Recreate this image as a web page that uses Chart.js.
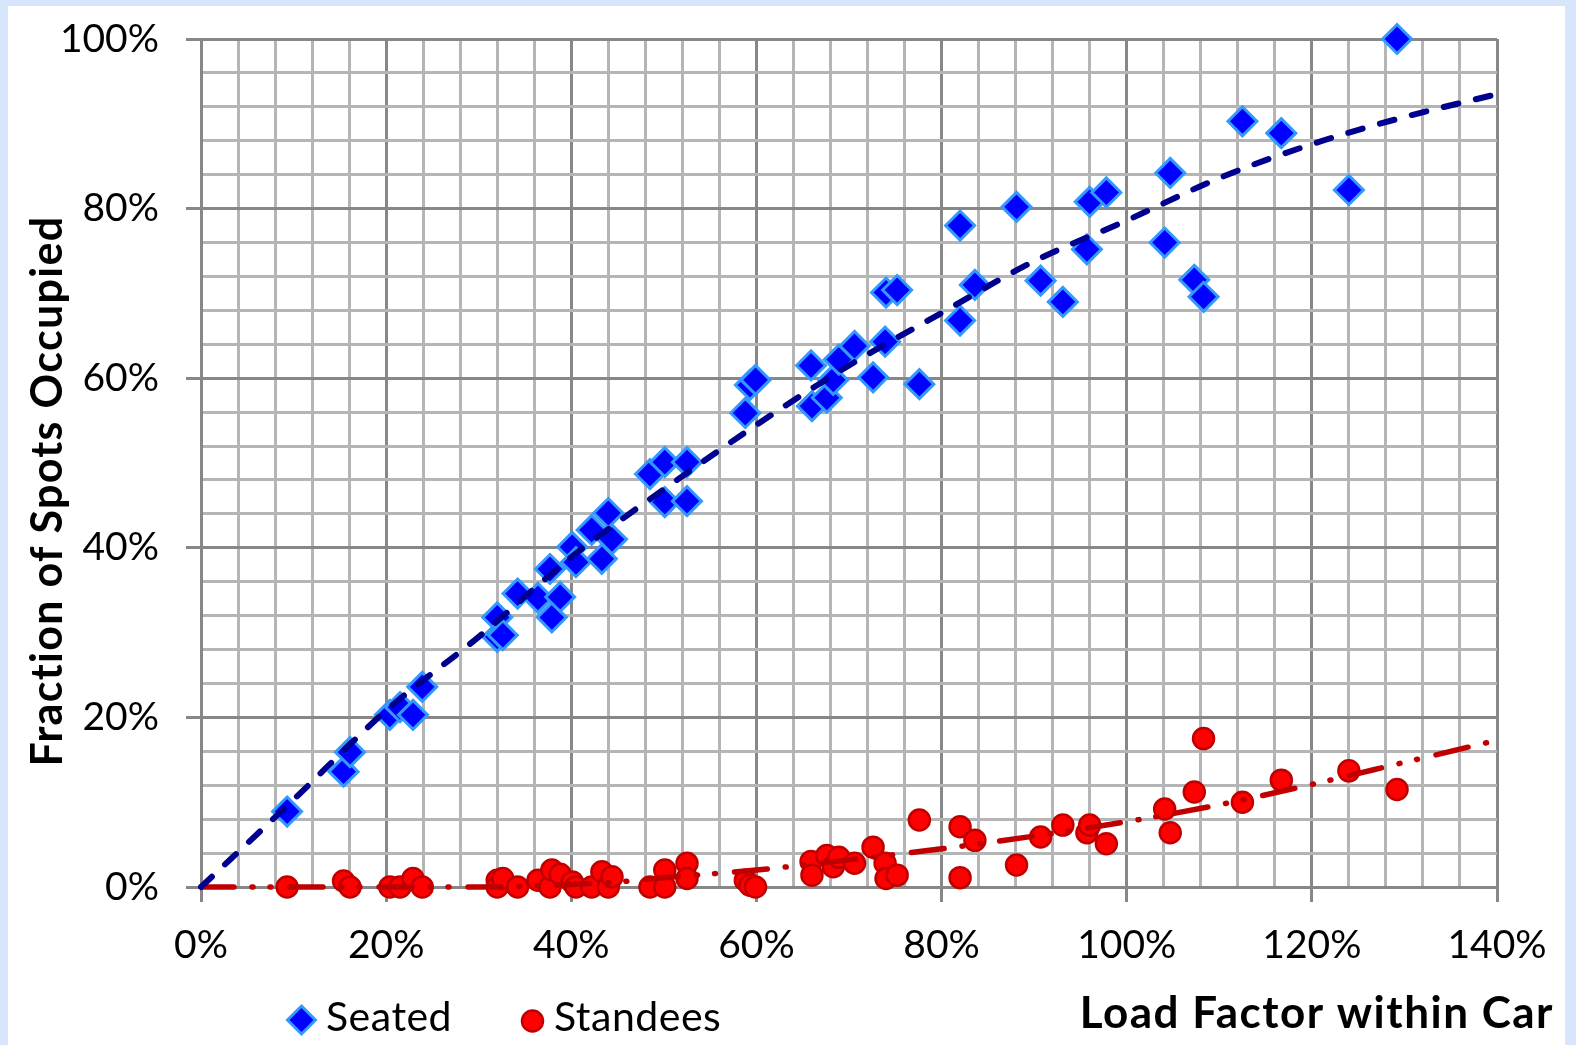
<!DOCTYPE html>
<html>
<head>
<meta charset="utf-8">
<script src="https://cdn.jsdelivr.net/npm/chart.js@4.4.1/dist/chart.umd.min.js"></script>
<style>
  html, body { margin: 0; padding: 0; background: #d7e6fa; width: 1576px; height: 1045px; overflow: hidden; }
  #box { position: absolute; left: 8px; top: 6px; width: 1557px; height: 1039px; background: #ffffff; }
  #c { display: block; }
</style>
</head>
<body>
<div id="box"><canvas id="c" width="1557" height="1039"></canvas></div>
<script>
// ---- data (percent) ----
const loadFactor = [9.3,15.4,16.1,20.4,21.5,22.9,23.9,32.0,32.0,32.6,34.2,36.4,37.7,37.9,38.8,40.1,40.5,42.2,43.3,44.0,44.4,48.5,50.1,50.1,52.5,52.5,58.8,59.3,59.9,65.9,66.0,67.6,68.3,68.9,70.6,72.6,73.9,74.0,75.2,77.6,82.0,82.0,83.6,88.1,90.7,93.1,95.7,96.0,97.8,104.1,104.7,107.3,108.3,112.5,116.7,124.0,129.2];
const seated = [8.9,13.6,15.9,20.3,21.2,20.3,23.6,31.8,29.5,29.7,34.6,34.1,37.5,31.8,34.2,40.1,38.3,42.1,38.7,44.1,41.0,48.7,50.1,45.4,50.1,45.5,55.9,59.2,59.8,61.5,56.7,57.7,59.8,62.2,63.8,60.1,64.3,70.1,70.4,59.3,78.0,66.8,71.0,80.2,71.5,69.0,75.2,80.8,81.9,76.0,84.2,71.6,69.6,90.3,88.9,82.2,100.0];
const standees = [0,0.7,0,0,0,1.0,0,0.8,0,1.0,0,0.8,0,2.0,1.5,0.6,0,0,1.8,0,1.2,0,2.0,0,2.8,1.0,0.8,0.2,0,3.0,1.4,3.7,2.4,3.5,2.8,4.7,2.8,1.0,1.4,7.9,7.1,1.1,5.5,2.6,5.9,7.3,6.4,7.3,5.1,9.2,6.4,11.2,17.5,10.0,12.6,13.7,11.5];
const trendX = [0,10,20,30,40,45,50,60,70,80,90,100,110,120,130,140];
const seatedTrend = [0,10.3,20.8,29.5,38.9,43.0,46.9,54.5,61.5,67.7,73.8,78.6,83.6,87.6,90.8,93.5];
const standeeTrend = [0,0,0,0,0.3,0.6,1.1,2.0,3.2,4.5,6.0,7.7,9.7,12.1,14.7,17.3];
const xTickLabels = ['0%','20%','40%','60%','80%','100%','120%','140%'];
const yTickLabels = ['0%','20%','40%','60%','80%','100%'];
const seriesNames = ['Seated','Standees'];
const xTitle = 'Load Factor within Car';
const yTitle = 'Fraction of Spots Occupied';

const pts = (xs, ys) => xs.map((x, i) => ({ x: x, y: ys[i] }));

const FONT = 'Lato, "Open Sans", sans-serif';
const MAJOR = '#878787', MINOR = '#b5b5b5';

const textPlugin = {
  id: 'texts',
  afterDraw(chart) {
    const ctx = chart.ctx;
    ctx.save();
    ctx.fillStyle = '#000';
    // y title
    ctx.save();
    ctx.translate(40, 485);
    ctx.rotate(-Math.PI / 2);
    ctx.font = 'bold 43px ' + FONT;
    ctx.letterSpacing = '1.3px';
    ctx.textAlign = 'center';
    ctx.textBaseline = 'middle';
    ctx.fillText(yTitle, 0, 0);
    ctx.restore();
    // x title
    ctx.font = 'bold 44px ' + FONT;
    ctx.letterSpacing = '1.5px';
    ctx.textAlign = 'right';
    ctx.textBaseline = 'alphabetic';
    ctx.fillText(xTitle, 1546, 1022);
    // legend
    ctx.font = '41px ' + FONT;
    ctx.letterSpacing = '0.5px';
    ctx.textAlign = 'left';
    ctx.textBaseline = 'middle';
    // diamond
    ctx.beginPath();
    const dx = 293.5, dy = 1014, r = 14;
    ctx.moveTo(dx, dy - r); ctx.lineTo(dx + r, dy); ctx.lineTo(dx, dy + r); ctx.lineTo(dx - r, dy); ctx.closePath();
    ctx.fillStyle = '#0000ff'; ctx.fill();
    ctx.lineWidth = 3; ctx.strokeStyle = '#3399ff'; ctx.stroke();
    ctx.fillStyle = '#000';
    ctx.fillText(seriesNames[0], 318, 1012);
    // circle
    ctx.beginPath();
    ctx.arc(524.5, 1015, 10.5, 0, Math.PI * 2);
    ctx.fillStyle = '#ff0000'; ctx.fill();
    ctx.lineWidth = 2.5; ctx.strokeStyle = '#c00000'; ctx.stroke();
    ctx.fillStyle = '#000';
    ctx.fillText(seriesNames[1], 546, 1012);
    ctx.restore();
  }
};

const isMajor = v => Math.round(v) % 20 === 0;

new Chart(document.getElementById('c'), {
  type: 'scatter',
  data: {
    datasets: [
      {
        label: 'Seated trend', type: 'line', data: pts(trendX, seatedTrend),
        borderColor: '#00008f', borderWidth: 6, borderDash: [15, 18], borderCapStyle: 'round',
        pointRadius: 0, fill: false, cubicInterpolationMode: 'monotone', order: 0, clip: 10
      },
      {
        label: 'Standees trend', type: 'line', data: pts(trendX, standeeTrend),
        borderColor: '#c00000', borderWidth: 5.5, borderDash: [33, 18, 1, 17, 1, 19], borderCapStyle: 'round',
        pointRadius: 0, fill: false, cubicInterpolationMode: 'monotone', order: 0, clip: 10
      },
      {
        label: seriesNames[0], data: pts(loadFactor, seated),
        pointStyle: 'rectRot', pointRadius: 14.5, pointHoverRadius: 14.5,
        backgroundColor: '#0000ff', borderColor: '#3399ff', borderWidth: 3, order: 1, clip: false
      },
      {
        label: seriesNames[1], data: pts(loadFactor, standees),
        pointStyle: 'circle', pointRadius: 10.5, pointHoverRadius: 10.5,
        backgroundColor: '#ff0000', borderColor: '#c00000', borderWidth: 2.5, order: 2, clip: false
      }
    ]
  },
  options: {
    responsive: false,
    animation: false,
    devicePixelRatio: 1,
    layout: { padding: { left: 0, top: 33, right: 68, bottom: 0 } },
    plugins: { legend: { display: false }, tooltip: { enabled: false } },
    scales: {
      x: {
        type: 'linear', min: 0, max: 140,
        afterFit: s => { s.height = 158; s.paddingLeft = 0; s.paddingRight = 0; },
        ticks: {
          stepSize: 4, autoSkip: false, maxRotation: 0, padding: 20,
          color: '#000', font: { family: FONT, size: 39 },
          callback: v => isMajor(v) ? xTickLabels[Math.round(v) / 20] : ''
        },
        grid: {
          lineWidth: 3, tickLength: 15,
          color: c => (c.tick && isMajor(c.tick.value)) ? MAJOR : MINOR,
          tickColor: c => (c.tick && isMajor(c.tick.value)) ? MAJOR : 'rgba(0,0,0,0)'
        },
        border: { display: true, color: MAJOR, width: 3 }
      },
      y: {
        type: 'linear', min: 0, max: 100,
        afterFit: s => { s.width = 193; s.paddingTop = 0; s.paddingBottom = 0; },
        ticks: {
          stepSize: 4, autoSkip: false, padding: 27,
          color: '#000', font: { family: FONT, size: 39 },
          callback: v => isMajor(v) ? yTickLabels[Math.round(v) / 20] : ''
        },
        grid: {
          lineWidth: 3, tickLength: 15,
          color: c => (c.tick && isMajor(c.tick.value)) ? MAJOR : MINOR,
          tickColor: c => (c.tick && isMajor(c.tick.value)) ? MAJOR : 'rgba(0,0,0,0)'
        },
        border: { display: true, color: MAJOR, width: 3 }
      }
    }
  },
  plugins: [textPlugin]
});
</script>
</body>
</html>
